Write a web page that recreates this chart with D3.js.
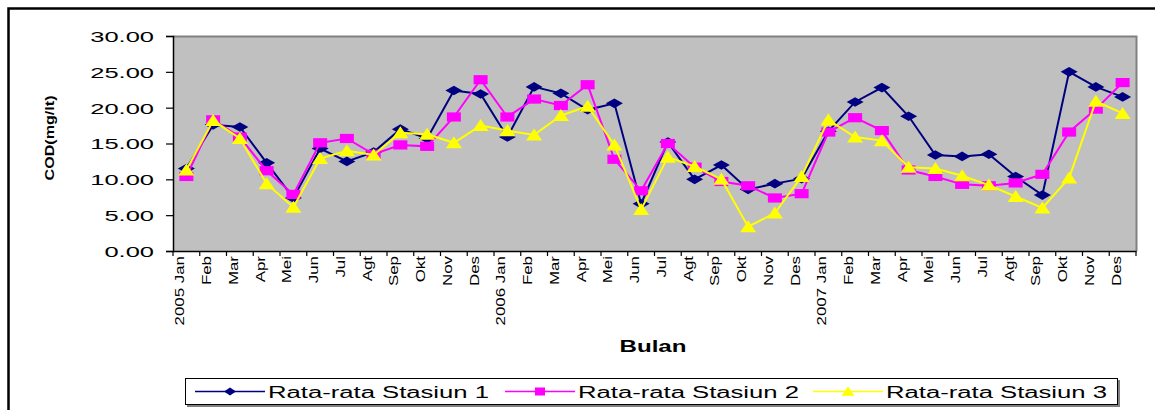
<!DOCTYPE html>
<html>
<head>
<meta charset="utf-8">
<script src="https://cdn.jsdelivr.net/npm/d3@7"></script>
<style>
  html, body { margin: 0; padding: 0; background: #ffffff; }
  svg { display: block; font-family: "Liberation Sans", Arial, sans-serif; }
</style>
</head>
<body>
<svg id="chart" width="1155" height="410"></svg>
<script>
// Monthly COD averages (mg/lt), Jan 2005 – Des 2007
const months = ["Jan","Feb","Mar","Apr","Mei","Jun","Jul","Agt","Sep","Okt","Nov","Des"];
const years = ["2005","2006","2007"];
const categories = years.flatMap(y => months.map((m, i) => (i === 0 ? y + " " : "") + m));

const stasiun1 = [11.5, 17.6, 17.3, 12.3, 7.4, 14.3, 12.5, 13.8, 17.0, 15.7, 22.4, 21.9,
                  15.9, 22.9, 22.0, 19.7, 20.6, 6.6, 15.2, 10.0, 12.0, 8.6, 9.4, 10.1,
                  16.7, 20.8, 22.8, 18.8, 13.4, 13.2, 13.5, 10.4, 7.8, 25.0, 22.9, 21.5];
const stasiun2 = [10.4, 18.3, 15.9, 11.2, 7.9, 15.1, 15.7, 13.5, 14.8, 14.6, 18.7, 23.9,
                  18.7, 21.2, 20.3, 23.2, 12.8, 8.4, 15.0, 11.7, 9.7, 9.1, 7.4, 8.0,
                  16.6, 18.6, 16.8, 11.3, 10.4, 9.3, 9.1, 9.5, 10.7, 16.6, 19.8, 23.5];
const stasiun3 = [11.3, 18.2, 15.7, 9.4, 6.1, 12.9, 14.0, 13.4, 16.5, 16.3, 15.1, 17.5,
                  16.8, 16.2, 18.9, 20.2, 14.8, 5.8, 13.1, 11.8, 10.0, 3.4, 5.3, 10.4,
                  18.3, 15.9, 15.4, 11.7, 11.5, 10.5, 9.2, 7.6, 6.0, 10.2, 20.9, 19.2];

const yTicks = [0, 5, 10, 15, 20, 25, 30];
const seriesNames = ["Rata-rata Stasiun 1", "Rata-rata Stasiun 2", "Rata-rata Stasiun 3"];

const series = [
  { name: seriesNames[0], values: stasiun1, color: "#000080", marker: "diamond" },
  { name: seriesNames[1], values: stasiun2, color: "#FF00FF", marker: "square" },
  { name: seriesNames[2], values: stasiun3, color: "#FFFF00", marker: "triangle" }
];

const svg = d3.select("#chart");
const plot = { left: 173, right: 1136, top: 36, bottom: 251 };

// month names repeat across years, so the band scale is keyed by position
const idx = d3.range(categories.length);
const x = d3.scaleBand().domain(idx).range([plot.left, plot.right]).paddingInner(0).paddingOuter(0);
const y = d3.scaleLinear().domain([0, 30]).range([plot.bottom, plot.top]);
const cx = i => x(i) + x.bandwidth() / 2;

// outer chart frame
svg.append("rect")
  .attr("x", 8.5).attr("y", 8.5).attr("width", 1170).attr("height", 420)
  .attr("fill", "#ffffff").attr("stroke", "#000").attr("stroke-width", 2.5);

// plot area
svg.append("rect")
  .attr("x", plot.left).attr("y", plot.top)
  .attr("width", plot.right - plot.left).attr("height", plot.bottom - plot.top)
  .attr("fill", "#C0C0C0");
svg.append("path")
  .attr("d", `M${plot.left},${plot.top + 0.5}H${plot.right + 0.5}V${plot.bottom}`)
  .attr("fill", "none").attr("stroke", "#808080").attr("stroke-width", 2);

// y axis
const yAxis = d3.axisLeft(y).tickValues(yTicks).tickSize(7).tickPadding(0).tickFormat(d => "");
const yg = svg.append("g").attr("transform", `translate(${plot.left},0)`).call(yAxis);
yg.select(".domain").attr("stroke", "#000").attr("stroke-width", 1.5);
yg.selectAll(".tick line").attr("stroke", "#000").attr("stroke-width", 1.2);
yg.selectAll(".tick").append("text")
  .attr("transform", "translate(-19,0) scale(1.7,1)")
  .attr("text-anchor", "end").attr("dy", "0.36em")
  .attr("fill", "#000").attr("font-size", 15).attr("font-weight", "normal")
  .text(d => d3.format(".2f")(d));

// x axis
const xAxis = d3.axisBottom(x).tickSize(0).tickFormat(() => "");
const xg = svg.append("g").attr("transform", `translate(0,${plot.bottom})`).call(xAxis);
xg.select(".domain").attr("stroke", "#000").attr("stroke-width", 1.5);
// tick marks on category boundaries
const edges = idx.map(i => x(i)).concat([plot.right]);
xg.selectAll(".edge").data(edges).join("line")
  .attr("x1", d => d).attr("x2", d => d).attr("y1", 0).attr("y2", 5)
  .attr("stroke", "#000").attr("stroke-width", 1.2);
// rotated month labels
svg.append("g").selectAll("text").data(idx).join("text")
  .attr("transform", i => `translate(${cx(i) - 2},${plot.bottom + 5}) rotate(-90) scale(1.3,1)`)
  .attr("text-anchor", "end").attr("font-size", 13).attr("fill", "#000")
  .text(i => categories[i]);

// axis titles
svg.append("text")
  .attr("transform", "translate(54,138) rotate(-90)")
  .attr("text-anchor", "middle").attr("font-size", 12).attr("font-weight", "bold")
  .attr("textLength", 85).attr("lengthAdjust", "spacingAndGlyphs")
  .text("COD(mg/lt)");
svg.append("text")
  .attr("x", 653).attr("y", 352)
  .attr("text-anchor", "middle").attr("font-size", 16.5).attr("font-weight", "bold")
  .attr("textLength", 67).attr("lengthAdjust", "spacingAndGlyphs")
  .text("Bulan");

// marker shapes
function markerPath(type, w, h) {
  if (type === "diamond") return `M0,${-h}L${w},0L0,${h}L${-w},0Z`;
  if (type === "square") return `M${-w},${-h}H${w}V${h}H${-w}Z`;
  return `M0,${-h}L${w},${h * 0.85}L${-w},${h * 0.85}Z`;
}
const markerSize = {
  diamond: [8.5, 4.8],
  square: [7, 4.6],
  triangle: [8, 6.5]
};

const line = d3.line().x((d, i) => cx(i)).y(d => y(d));

series.forEach(s => {
  const g = svg.append("g");
  g.append("path").datum(s.values)
    .attr("d", line).attr("fill", "none")
    .attr("stroke", s.color).attr("stroke-width", 2).attr("stroke-linejoin", "miter");
  const [w, h] = markerSize[s.marker];
  g.selectAll("path.m").data(s.values).join("path")
    .attr("class", "m")
    .attr("transform", (d, i) => `translate(${cx(i)},${y(d)})`)
    .attr("d", markerPath(s.marker, w, h))
    .attr("fill", s.color);
});

// legend
const lg = svg.append("g");
lg.append("rect").attr("x", 187).attr("y", 380).attr("width", 933).attr("height", 27).attr("fill", "#808080");
lg.append("rect").attr("x", 185.5).attr("y", 378.5).attr("width", 932).attr("height", 26)
  .attr("fill", "#fff").attr("stroke", "#000").attr("stroke-width", 1);
const legendX = [195, 505, 813];
const legendMarker = { diamond: [6, 4], square: [5, 4], triangle: [6.5, 5] };
series.forEach((s, i) => {
  const x0 = legendX[i];
  lg.append("line").attr("x1", x0).attr("x2", x0 + 70).attr("y1", 391.5).attr("y2", 391.5)
    .attr("stroke", s.color).attr("stroke-width", 1.5);
  const [w, h] = legendMarker[s.marker];
  lg.append("path").attr("transform", `translate(${x0 + 35},391.5)`)
    .attr("d", markerPath(s.marker, w, h)).attr("fill", s.color);
  lg.append("text").attr("x", x0 + 73).attr("y", 397.5)
    .attr("font-size", 16).attr("fill", "#000")
    .attr("textLength", 221).attr("lengthAdjust", "spacingAndGlyphs")
    .text(s.name);
});
</script>
</body>
</html>
